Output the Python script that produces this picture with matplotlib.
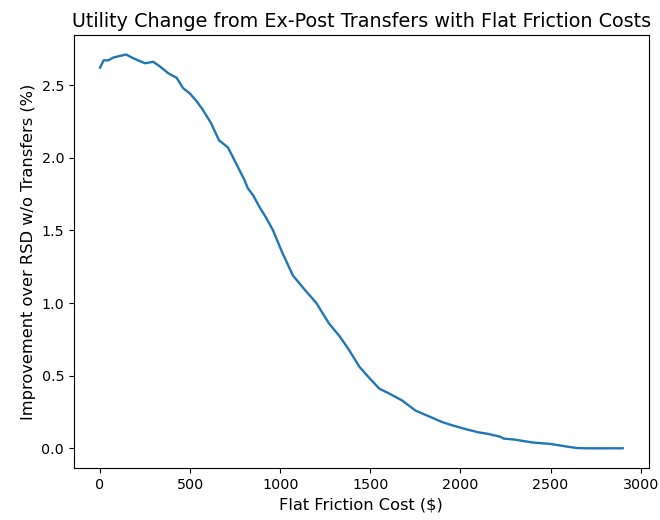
import matplotlib
matplotlib.use('Agg')
import matplotlib.pyplot as plt

# flat friction cost ($) and improvement over RSD (%)
cost = [0, 20, 45, 75, 110, 145, 175, 210, 250, 295, 330, 380, 425, 460,
        500, 535, 570, 615, 660, 710, 755, 800, 820, 850, 885, 920, 960,
        1010, 1070, 1130, 1200, 1270, 1330, 1380, 1440, 1490, 1550, 1600,
        1675, 1750, 1825, 1900, 1950, 2035, 2100, 2150, 2220, 2240, 2300,
        2400, 2500, 2550, 2600, 2645, 2700, 2800, 2900]
improvement = [2.62, 2.67, 2.67, 2.69, 2.70, 2.71, 2.69, 2.67, 2.65, 2.66,
               2.63, 2.58, 2.55, 2.48, 2.44, 2.39, 2.33, 2.24, 2.12, 2.07,
               1.96, 1.85, 1.79, 1.74, 1.66, 1.59, 1.50, 1.35, 1.19, 1.10,
               1.00, 0.86, 0.77, 0.68, 0.56, 0.49, 0.41, 0.38, 0.33, 0.26,
               0.22, 0.18, 0.16, 0.13, 0.11, 0.10, 0.08, 0.067, 0.06, 0.04,
               0.03, 0.02, 0.01, 0.002, 0.0, 0.0, 0.0]

fig, ax = plt.subplots(figsize=(6.6, 5.2), dpi=100)
plt.subplots_adjust(left=0.112, right=0.983, top=0.933, bottom=0.1)

ax.plot(cost, improvement, color='#1f77b4', linewidth=1.7)
ax.set_title('Utility Change from Ex-Post Transfers with Flat Friction Costs', fontsize=13.8)
ax.set_xlabel('Flat Friction Cost ($)', fontsize=11.7)
ax.set_ylabel('Improvement over RSD w/o Transfers (%)', fontsize=11.7)
ax.tick_params(labelsize=10.3)

plt.savefig('out.png', dpi=100)
